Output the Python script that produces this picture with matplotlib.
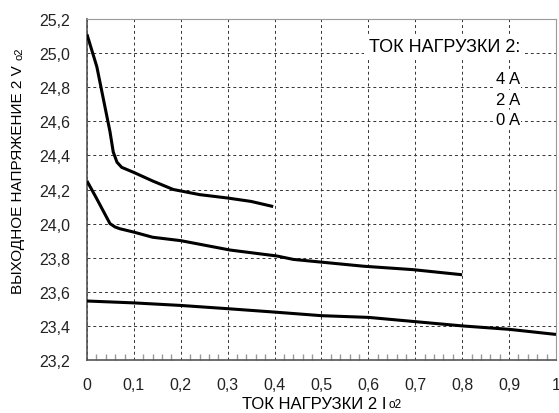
import numpy as np
import matplotlib
matplotlib.use('Agg')
import matplotlib.pyplot as plt
from matplotlib.ticker import MultipleLocator, FuncFormatter

plt.rcParams['font.family'] = ['Liberation Sans', 'DejaVu Sans']

# 4 A
x4 = [0.0, 0.021, 0.049, 0.056, 0.064, 0.074, 0.1, 0.14, 0.184, 0.24, 0.30, 0.35, 0.397]
y4 = [25.11, 24.92, 24.54, 24.42, 24.36, 24.33, 24.30, 24.25, 24.20, 24.17, 24.15, 24.13, 24.10]
# 2 A
x2 = [0.0, 0.02, 0.049, 0.06, 0.07, 0.1, 0.14, 0.2, 0.305, 0.405, 0.44, 0.59, 0.695, 0.8]
y2 = [24.25, 24.15, 24.00, 23.98, 23.97, 23.95, 23.92, 23.90, 23.845, 23.81, 23.79, 23.75, 23.73, 23.70]
# 0 A
x0 = [0.0, 0.1, 0.2, 0.305, 0.405, 0.5, 0.6, 0.7, 0.8, 0.9, 1.0]
y0 = [23.546, 23.535, 23.52, 23.50, 23.48, 23.46, 23.45, 23.425, 23.40, 23.38, 23.35]

fig = plt.figure(figsize=(5.59, 4.14), dpi=100)
ax = fig.add_axes([0.1556, 0.128, 0.839, 0.8237])

for xs, ys in [(x4, y4), (x2, y2), (x0, y0)]:
    ax.plot(xs, ys, color='black', lw=2.2, solid_capstyle='butt', zorder=3)

ax.set_xlim(0, 1)
ax.set_ylim(23.2, 25.2)
ax.xaxis.set_major_locator(MultipleLocator(0.1))
ax.xaxis.set_minor_locator(MultipleLocator(0.02))
ax.yaxis.set_major_locator(MultipleLocator(0.2))
ax.xaxis.set_major_formatter(FuncFormatter(lambda v, p: ('%g' % round(v, 1)).replace('.', ',')))
ax.yaxis.set_major_formatter(FuncFormatter(lambda v, p: ('%.1f' % v).replace('.', ',')))
ax.tick_params(axis='x', which='major', length=0, pad=12, labelsize=11.5, colors='#222222')
ax.tick_params(axis='x', which='minor', direction='in', length=4, color='#999999', width=1)
ax.tick_params(axis='y', which='major', length=0, pad=12, labelsize=11.5, colors='#222222')
ax.grid(True, which='major', color='#333333', ls=(0, (3, 3)), lw=0.7)

for side in ['top', 'right']:
    ax.spines[side].set_color('#999999')
for side in ['left', 'bottom']:
    ax.spines[side].set_color('#555555')
    ax.spines[side].set_linewidth(1.2)

ax.text(0.923, 25.04, 'ТОК НАГРУЗКИ 2:', ha='right', va='center', fontsize=13,
        bbox=dict(facecolor='white', edgecolor='none', pad=3), zorder=4)
for yy, lab in [(24.85, '4 A'), (24.73, '2 A'), (24.61, '0 A')]:
    ax.text(0.923, yy, lab, ha='right', va='center', fontsize=12,
            bbox=dict(facecolor='white', edgecolor='none', pad=1), zorder=4)

# axis labels with small "о2" subscripts
xl = fig.text(0.562, 0.012, 'ТОК НАГРУЗКИ 2 I', ha='center', va='baseline', fontsize=12)
ax.annotate('о2', xy=(1, 0), xycoords=xl, xytext=(1.5, 1), textcoords='offset points',
            ha='left', va='bottom', fontsize=8.5, annotation_clip=False)
yl = fig.text(0.032, 0.565, 'ВЫХОДНОЕ НАПРЯЖЕНИЕ 2 V', ha='center', va='center',
              rotation=90, fontsize=11, family=['Liberation Sans Narrow', 'Liberation Sans'])
ax.annotate('о2', xy=(0.5, 1), xycoords=yl, xytext=(1, 4), textcoords='offset points',
            ha='center', va='bottom', rotation=90, fontsize=8, annotation_clip=False)

fig.savefig('out.png', dpi=100)
